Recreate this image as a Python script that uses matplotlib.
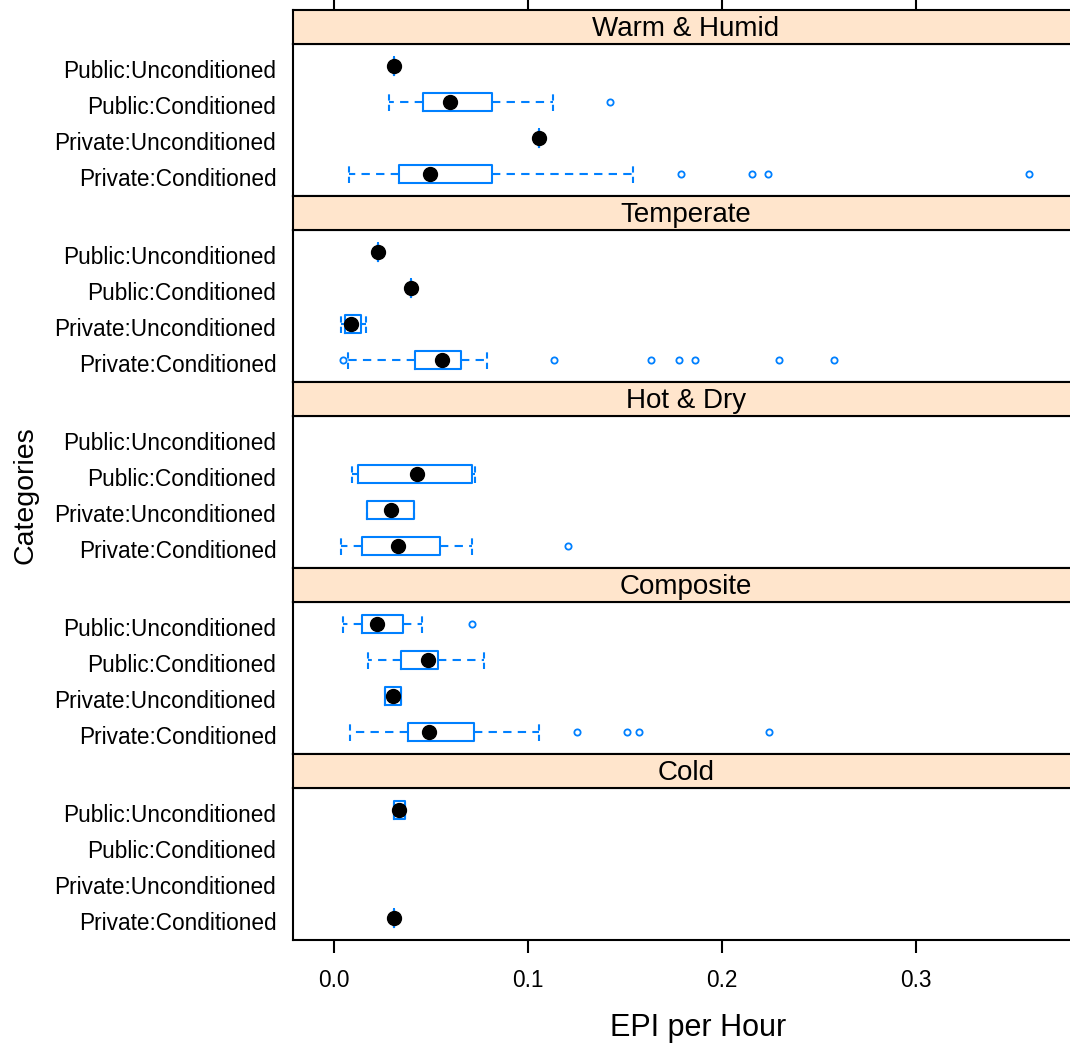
import matplotlib
matplotlib.use("Agg")
import matplotlib.pyplot as plt
import matplotlib.transforms as mtransforms

plt.rcParams['font.family'] = ['Liberation Sans', 'DejaVu Sans']

# ---------------- data ----------------
climates = ["Warm & Humid", "Temperate", "Hot & Dry", "Composite", "Cold"]  # top -> bottom
categories = ["Private:Conditioned", "Private:Unconditioned",
              "Public:Conditioned", "Public:Unconditioned"]                 # bottom -> top
x_ticks = [0.0, 0.1, 0.2, 0.3]
x_ticklabels = ["0.0", "0.1", "0.2", "0.3"]

# five-number summaries (whisker low, Q1, median, Q3, whisker high) per category
warm_humid = [(0.0076, 0.0335, 0.0494, 0.0817, 0.1543),
              (0.1056, 0.1056, 0.1056, 0.1056, 0.1056),
              (0.0281, 0.0460, 0.0599, 0.0817, 0.1127),
              (0.0309, 0.0309, 0.0309, 0.0309, 0.0309)]
warm_humid_out = [[0.1789, 0.2153, 0.2235, 0.358], [], [0.1425], []]

temperate = [(0.0073, 0.0418, 0.0556, 0.0655, 0.0791),
             (0.0038, 0.0055, 0.0089, 0.0138, 0.0164),
             (0.0395, 0.0395, 0.0395, 0.0395, 0.0395),
             (0.0229, 0.0229, 0.0229, 0.0229, 0.0229)]
temperate_out = [[0.0045, 0.1134, 0.1635, 0.178, 0.186, 0.2296, 0.2578], [], [], []]

hot_dry = [(0.0036, 0.0146, 0.0328, 0.0548, 0.0711),
           (0.0172, 0.0172, 0.0292, 0.0412, 0.0412),
           (0.0093, 0.0125, 0.0430, 0.0713, 0.0729),
           None]
hot_dry_out = [[0.1208], [], [], []]

composite = [(0.0083, 0.0381, 0.0491, 0.0720, 0.1056),
             (0.0262, 0.0262, 0.0302, 0.0347, 0.0347),
             (0.0174, 0.0345, 0.0483, 0.0537, 0.0775),
             (0.0045, 0.0146, 0.0223, 0.0357, 0.0456)]
composite_out = [[0.1255, 0.1509, 0.157, 0.2243], [], [], [0.071]]

cold = [(0.0311, 0.0311, 0.0311, 0.0311, 0.0311),
        None,
        None,
        (0.0308, 0.0308, 0.0337, 0.0367, 0.0367)]
cold_out = [[], [], [], []]

panel_stats = [warm_humid, temperate, hot_dry, composite, cold]
panel_out = [warm_humid_out, temperate_out, hot_dry_out, composite_out, cold_out]

# ---------------- layout ----------------
W, H = 1070, 1049
fig = plt.figure(figsize=(W / 100, H / 100), dpi=100)

left_px, right_px = 293, 1079
x0_px, px_per_unit = 334, 1940.0
xlim = ((left_px - x0_px) / px_per_unit, (right_px - x0_px) / px_per_unit)

blue = "#0080ff"
lw = 1.5
axw = (right_px - left_px) / W
label_shift = mtransforms.ScaledTranslation(0, -3 / 100, fig.dpi_scale_trans)

for i, name in enumerate(climates):
    strip_top = 10 + 186 * i
    strip_bot = strip_top + 34
    panel_bot = strip_bot + 152

    ax = fig.add_axes([left_px / W, 1 - panel_bot / H, axw, 152 / H])
    sx = fig.add_axes([left_px / W, 1 - strip_bot / H, axw, 34 / H], sharex=ax)

    stats = []
    pos = []
    meds = []
    for j, s in enumerate(panel_stats[i]):
        if s is None:
            continue
        stats.append(dict(whislo=s[0], q1=s[1], med=s[2], q3=s[3], whishi=s[4],
                          fliers=panel_out[i][j]))
        pos.append(j + 1)
        meds.append(s[2])

    kw = dict(positions=pos, widths=0.5, capwidths=0.5, showfliers=True,
              boxprops=dict(color=blue, linewidth=lw),
              whiskerprops=dict(color=blue, linewidth=lw, linestyle=(0, (4, 3))),
              capprops=dict(color=blue, linewidth=lw, linestyle=(0, (3, 2))),
              flierprops=dict(marker='o', markerfacecolor='none', markeredgecolor=blue,
                              markersize=4.5, markeredgewidth=1.3, linestyle='none'),
              medianprops=dict(linewidth=0))
    try:
        ax.bxp(stats, orientation='horizontal', **kw)
    except TypeError:
        ax.bxp(stats, vert=False, **kw)
    ax.plot(meds, pos, 'o', color='black', markersize=10, linestyle='none', zorder=5)

    ax.set_xlim(*xlim)
    ax.set_ylim(0.4, 4.6)
    ax.set_yticks([1, 2, 3, 4])
    ax.set_yticklabels(categories, fontsize=16.3)
    ax.tick_params(axis='y', length=0, pad=12)
    for lab in ax.get_yticklabels():
        lab.set_transform(lab.get_transform() + label_shift)
    for sp in ax.spines.values():
        sp.set_linewidth(lw)

    sx.set_facecolor('#ffe5cc')
    sx.set_yticks([])
    for sp in sx.spines.values():
        sp.set_linewidth(lw)
    sx.text(0.5, 0.43, name, ha='center', va='center', fontsize=20,
            transform=sx.transAxes)

    if i == 0:
        sx.xaxis.set_ticks_position('top')
        sx.set_xticks(x_ticks)
        sx.tick_params(axis='x', top=True, bottom=False, labeltop=False,
                       labelbottom=False, length=9, width=lw)
    else:
        sx.tick_params(axis='x', top=False, bottom=False, labeltop=False,
                       labelbottom=False)

    if i == len(climates) - 1:
        ax.set_xticks(x_ticks)
        ax.set_xticklabels(x_ticklabels, fontsize=16.3)
        ax.tick_params(axis='x', length=9, width=lw, pad=12)
    else:
        ax.tick_params(axis='x', bottom=False, labelbottom=False)

fig.text(698 / W, 1 - 1028 / H, "EPI per Hour", ha='center', va='center', fontsize=22)
fig.text(25 / W, 1 - 495 / H, "Categories", ha='center', va='center', fontsize=20.5,
         rotation=90)

fig.savefig("out.png", dpi=100)
